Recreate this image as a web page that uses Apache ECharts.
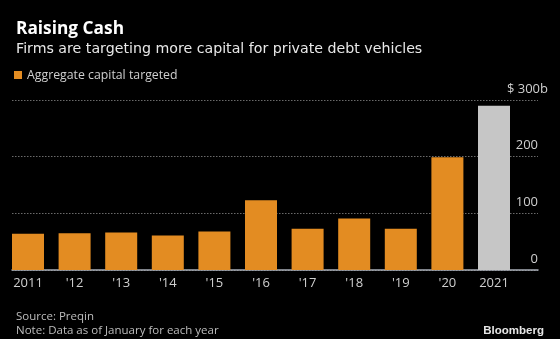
<!DOCTYPE html>
<html>
<head>
<meta charset="utf-8">
<script src="https://cdn.jsdelivr.net/npm/echarts@6/dist/echarts.min.js"></script>
<style>
  html, body { margin: 0; padding: 0; background: #000; }
  #chart { width: 560px; height: 339px; }
</style>
</head>
<body>
<div id="chart"></div>
<script>
// Aggregate capital targeted by private debt funds, $ billions (as of January)
const categories = ['2011', "'12", "'13", "'14", "'15", "'16", "'17", "'18", "'19", "'20", '2021'];
const capitalTargeted = [64, 65, 66, 61, 68, 123, 73, 91, 73, 199, 290];
const valueTicks = [0, 100, 200, 300];

const FONT = 'Open Sans';
const ORANGE = '#E38C22';
const GREY_BAR = '#C6C6C6';

const chart = echarts.init(document.getElementById('chart'), null, { renderer: 'canvas' });

const barData = capitalTargeted.map((v, i) => ({
  value: v,
  itemStyle: { color: i === capitalTargeted.length - 1 ? GREY_BAR : ORANGE }
}));

const option = {
  backgroundColor: '#000',
  animation: false,
  textStyle: { fontFamily: FONT },
  title: [
    { text: 'Raising Cash', left: 11, top: 16,
      textStyle: { color: '#fff', fontSize: 17.3, fontWeight: 'bold', fontFamily: FONT } },
    { text: 'Firms are targeting more capital for private debt vehicles', left: 11, top: 37,
      textStyle: { color: '#e8e8e8', fontSize: 14.2, fontWeight: 'normal', fontFamily: 'DejaVu Sans' } },
    { text: 'Source: Preqin\nNote: Data as of January for each year', left: 11, top: 305,
      textStyle: { color: '#bdbdbd', fontSize: 11.5, fontWeight: 'normal', lineHeight: 14, fontFamily: FONT } },
    { text: 'Bloomberg', right: 11, top: 320,
      textStyle: { color: '#e6e6e6', fontSize: 11.5, fontWeight: 'bold', fontFamily: 'Liberation Sans' } }
  ],
  legend: {
    left: 9, top: 64,
    icon: 'rect', itemWidth: 8, itemHeight: 8, itemGap: 10,
    textStyle: { color: '#cfcfcf', fontSize: 12.3, fontFamily: FONT },
    data: [{ name: 'Aggregate capital targeted', itemStyle: { color: ORANGE } }]
  },
  grid: [
    // bars
    { left: 4.7, width: 512.6, top: 100, height: 170 },
    // gridlines, baseline and value labels
    { left: 12, right: 22, top: 100, height: 170 }
  ],
  xAxis: [
    { type: 'category', gridIndex: 0, data: categories,
      axisLine: { show: false }, axisTick: { show: false },
      axisLabel: { color: '#cfcfcf', fontSize: 13, margin: 7, fontFamily: FONT } },
    { type: 'value', gridIndex: 1, min: 0, max: 1,
      axisLine: { show: true, lineStyle: { color: '#a9aeb8', width: 1.5 } },
      axisTick: { show: false }, axisLabel: { show: false }, splitLine: { show: false } }
  ],
  yAxis: [
    { type: 'value', gridIndex: 0, min: 0, max: 300, show: false, splitLine: { show: false } },
    { type: 'value', gridIndex: 1, min: 0, max: 300, interval: 100, position: 'right',
      axisLine: { show: false }, axisTick: { show: false },
      axisLabel: {
        inside: true, margin: -10, align: 'right', verticalAlign: 'bottom',
        color: '#cfcfcf', fontSize: 13, lineHeight: 22, fontFamily: FONT,
        formatter: v => {
          if (!valueTicks.includes(v)) return '';
          return v === 300 ? '$ ' + v + 'b' : v + '{g| }';
        },
        rich: { g: { width: 10, fontSize: 13, lineHeight: 22 } }
      },
      splitLine: { show: true, lineStyle: { color: '#6a6a6a', type: [1.5, 1.5], width: 1 } } }
  ],
  series: [{
    name: 'Aggregate capital targeted',
    type: 'bar', xAxisIndex: 0, yAxisIndex: 0,
    barWidth: 32,
    itemStyle: { color: ORANGE },
    data: barData
  }]
};

chart.setOption(option);
</script>
</body>
</html>
